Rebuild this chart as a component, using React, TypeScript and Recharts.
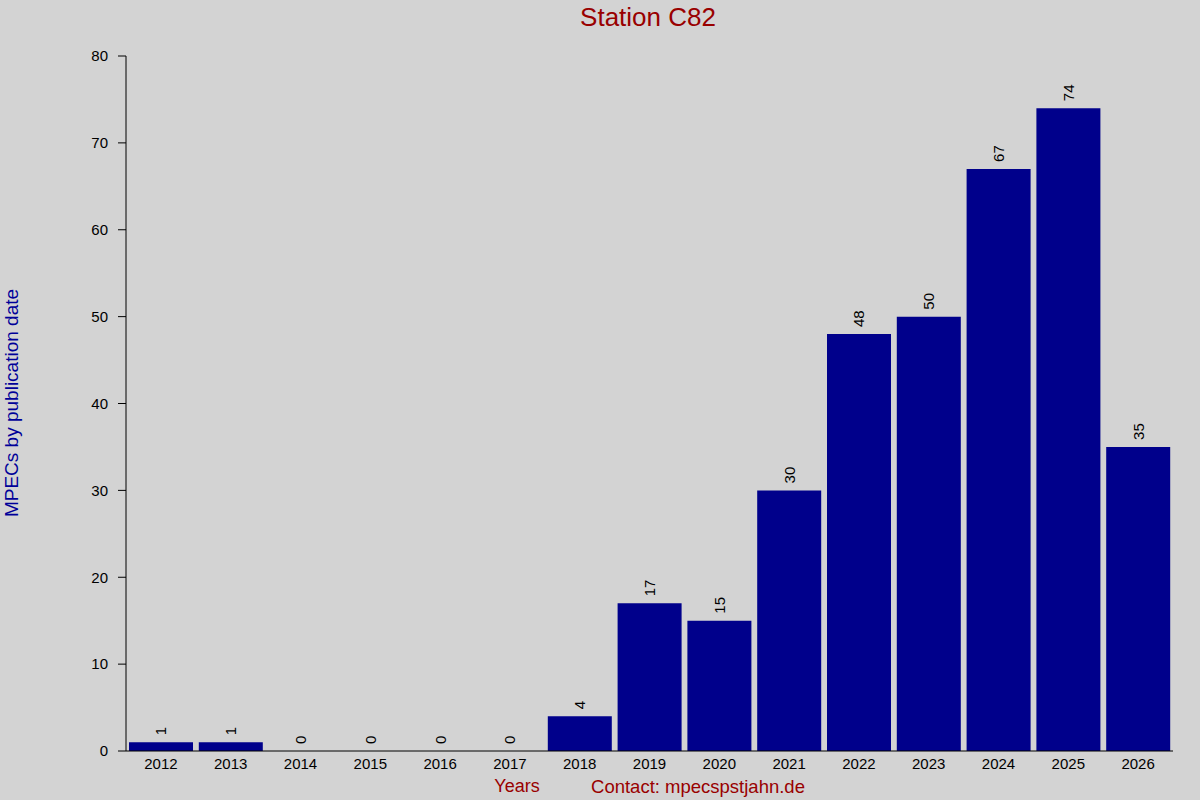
import React from 'react';
import { ComposedChart, Bar, Line, XAxis, YAxis, LabelList } from 'recharts';

const years = ['2012','2013','2014','2015','2016','2017','2018','2019','2020','2021','2022','2023','2024','2025','2026'];
const counts = [1,1,0,0,0,0,4,17,15,30,48,50,67,74,35];
const yTicks = [0,10,20,30,40,50,60,70,80];

const data = years.map((y, i) => ({ year: y, value: counts[i] }));

const FONT = 'Liberation Sans, Arial, sans-serif';

const ValueLabel = (props: any) => {
  const { x, y, value } = props;
  const cx = Number(x);
  const ty = Number(y) - 7;
  return (
    <text
      x={cx}
      y={ty}
      transform={`rotate(-90 ${cx} ${ty})`}
      textAnchor="start"
      dominantBaseline="central"
      fontSize={15}
      fontFamily={FONT}
      fill="#000"
    >
      {value}
    </text>
  );
};

export default function App() {
  return (
    <div style={{ position: 'absolute', left: 0, top: 0, width: 1200, height: 800, background: '#d3d3d3' }}>
      <ComposedChart
        width={1200}
        height={800}
        data={data}
        margin={{ top: 56, right: 27, bottom: 0, left: 0 }}
        barCategoryGap={3}
      >
        <XAxis
          dataKey="year"
          xAxisId="bottom"
          height={49}
          tickLine={false}
          axisLine={{ stroke: '#000', strokeWidth: 1 }}
          tick={{ fill: '#000', fontSize: 15, fontFamily: FONT }}
          tickMargin={1}
          interval={0}
        />
        <XAxis
          dataKey="year"
          xAxisId="top"
          orientation="top"
          height={0}
          axisLine={false}
          tickLine={{ stroke: '#000', strokeWidth: 1 }}
          tickSize={1}
          tickFormatter={() => ''}
          interval={0}
        />
        <YAxis
          width={126}
          domain={[0, 80]}
          ticks={yTicks}
          interval={0}
          tickSize={8}
          tickLine={{ stroke: '#000', strokeWidth: 1 }}
          axisLine={{ stroke: '#000', strokeWidth: 1 }}
          tick={{ fill: '#000', fontSize: 15, fontFamily: FONT }}
          tickMargin={10}
        />
        <Bar dataKey="value" xAxisId="bottom" fill="#00008b" isAnimationActive={false} />
        <Line
          dataKey="value"
          xAxisId="bottom"
          stroke="none"
          dot={false}
          activeDot={false}
          isAnimationActive={false}
        >
          <LabelList dataKey="value" content={ValueLabel} />
        </Line>
      </ComposedChart>
      <svg width={1200} height={800} style={{ position: 'absolute', left: 0, top: 0, pointerEvents: 'none' }}>
        <text x={648} y={17} textAnchor="middle" dominantBaseline="central" fontSize={26} fontFamily={FONT} fill="#990000">
          Station C82
        </text>
        <text x={517} y={786} textAnchor="middle" dominantBaseline="central" fontSize={18} fontFamily={FONT} fill="#990000">
          Years
        </text>
        <text x={698} y={786} textAnchor="middle" dominantBaseline="central" fontSize={18.5} fontFamily={FONT} fill="#990000">
          Contact: mpecspstjahn.de
        </text>
        <text
          x={11}
          y={403}
          transform="rotate(-90 11 403)"
          textAnchor="middle"
          dominantBaseline="central"
          fontSize={19}
          fontFamily={FONT}
          fill="#000099"
        >
          MPECs by publication date
        </text>
      </svg>
    </div>
  );
}
